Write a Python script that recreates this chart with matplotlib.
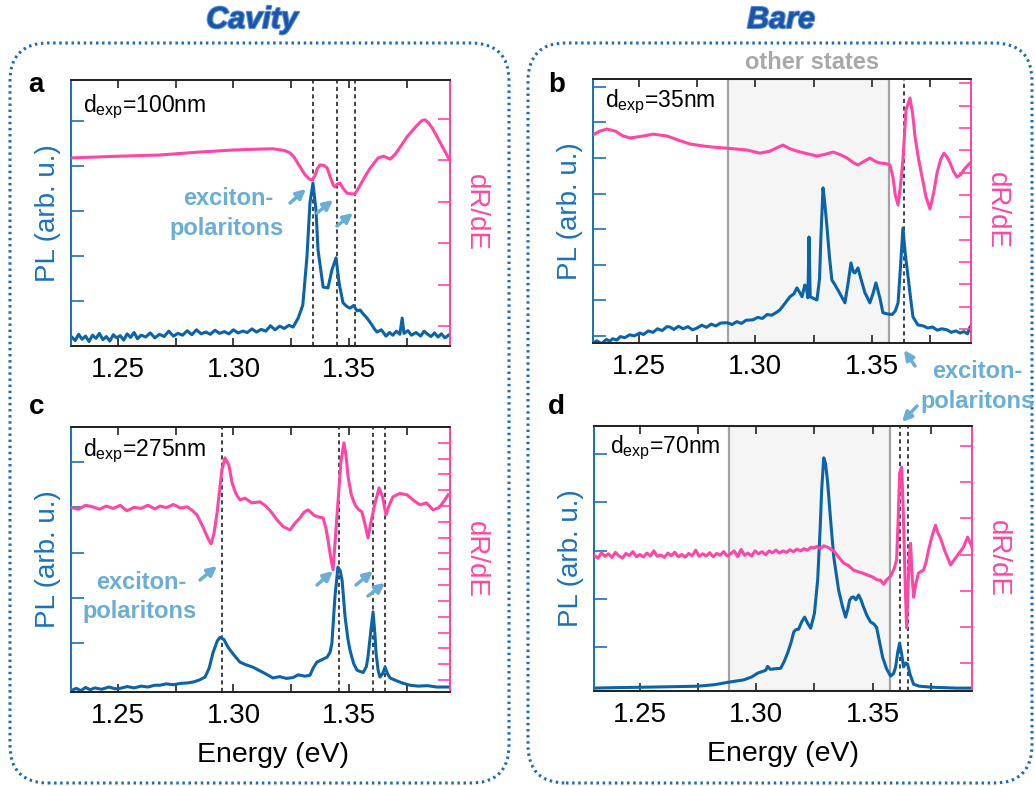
import numpy as np
import matplotlib
matplotlib.use("Agg")
import matplotlib.pyplot as plt
from matplotlib.patches import FancyBboxPatch, FancyArrowPatch
from matplotlib.transforms import IdentityTransform
import matplotlib.patheffects as pe

plt.rcParams['font.family'] = ['Liberation Sans', 'DejaVu Sans']
plt.rcParams['mathtext.fontset'] = 'custom'
plt.rcParams['mathtext.rm'] = 'Liberation Sans'
plt.rcParams['mathtext.it'] = 'Liberation Sans:italic'
plt.rcParams['mathtext.bf'] = 'Liberation Sans:bold'

# ---------------- data ----------------
# Panel a (cavity, d=100 nm)
a_pl_E = [1.2300, 1.2315, 1.2330, 1.2345, 1.2360, 1.2375, 1.2390, 1.2405, 1.2420, 1.2435, 1.2450, 1.2465,
          1.2480, 1.2495, 1.2510, 1.2525, 1.2540, 1.2555, 1.2570, 1.2585, 1.2600, 1.2620, 1.2640, 1.2660,
          1.2680, 1.2700, 1.2720, 1.2740, 1.2760, 1.2780, 1.2800, 1.2820, 1.2840, 1.2860, 1.2880, 1.2900,
          1.2920, 1.2940, 1.2960, 1.2980, 1.3000, 1.3020, 1.3040, 1.3060, 1.3080, 1.3100, 1.3120, 1.3140,
          1.3160, 1.3180, 1.3200, 1.3220, 1.3240, 1.3258, 1.3280, 1.3300, 1.3318, 1.3331, 1.3344, 1.3357,
          1.3366, 1.3388, 1.3409, 1.3426, 1.3444, 1.3457, 1.3474, 1.3490, 1.3504, 1.3520, 1.3535, 1.3548,
          1.3560, 1.3578, 1.3595, 1.3610, 1.3621, 1.3640, 1.3660, 1.3675, 1.3690, 1.3705, 1.3720, 1.3730,
          1.3738, 1.3755, 1.3770, 1.3790, 1.3810, 1.3825, 1.3838, 1.3855, 1.3870, 1.3885, 1.3900, 1.3915,
          1.3930]
a_pl = [0.20, 0.12, 0.26, 0.15, 0.22, 0.10, 0.24, 0.17, 0.28, 0.14, 0.21, 0.11,
        0.25, 0.18, 0.23, 0.13, 0.27, 0.19, 0.30, 0.16, 0.24, 0.20, 0.29, 0.18,
        0.26, 0.21, 0.33, 0.22, 0.28, 0.24, 0.34, 0.25, 0.36, 0.27, 0.31, 0.26,
        0.35, 0.28, 0.32, 0.27, 0.36, 0.29, 0.33, 0.30, 0.38, 0.31, 0.37, 0.33,
        0.45, 0.36, 0.44, 0.39, 0.46, 0.42, 0.62, 0.91, 1.98, 3.18, 3.62, 3.02,
        2.13, 1.31, 1.29, 1.69, 1.96, 1.40, 0.96, 0.88, 0.84, 0.90, 0.78, 0.80,
        0.72, 0.62, 0.50, 0.38, 0.31, 0.36, 0.22, 0.30, 0.24, 0.33, 0.26, 0.62,
        0.28, 0.34, 0.24, 0.30, 0.22, 0.33, 0.27, 0.21, 0.29, 0.20, 0.27, 0.18,
        0.24]
a_dr_E = [1.2300, 1.2500, 1.2682, 1.2850, 1.2998, 1.3100, 1.3171, 1.3220, 1.3245, 1.3262, 1.3275, 1.3293,
          1.3310, 1.3328, 1.3340, 1.3352, 1.3363, 1.3374, 1.3390, 1.3405, 1.3420, 1.3432, 1.3439, 1.3450,
          1.3461, 1.3475, 1.3491, 1.3510, 1.3526, 1.3543, 1.3561, 1.3590, 1.3626, 1.3650, 1.3678, 1.3700,
          1.3725, 1.3751, 1.3790, 1.3815, 1.3829, 1.3845, 1.3860, 1.3881, 1.3905, 1.3933]
a_dr = [5.06, 5.10, 5.13, 5.20, 5.25, 5.27, 5.28, 5.24, 5.18, 5.08, 4.96, 4.80,
        4.65, 4.55, 4.53, 4.62, 4.80, 4.89, 4.88, 4.82, 4.58, 4.40, 4.36, 4.43,
        4.45, 4.32, 4.21, 4.19, 4.19, 4.35, 4.53, 4.80, 5.06, 5.10, 5.03, 5.15,
        5.35, 5.57, 5.82, 5.96, 5.98, 5.90, 5.78, 5.57, 5.32, 5.03]
a_lines = [1.3344, 1.3448, 1.3526]

# Panel b (bare, d=35 nm)
b_pl_E = [1.2303, 1.2320, 1.2340, 1.2360, 1.2375, 1.2388, 1.2405, 1.2420, 1.2440, 1.2460, 1.2480, 1.2504,
          1.2520, 1.2540, 1.2560, 1.2580, 1.2600, 1.2620, 1.2633, 1.2650, 1.2670, 1.2690, 1.2710, 1.2730,
          1.2749, 1.2770, 1.2790, 1.2810, 1.2830, 1.2850, 1.2878, 1.2900, 1.2920, 1.2940, 1.2960, 1.2989,
          1.3010, 1.3030, 1.3050, 1.3070, 1.3090, 1.3105, 1.3125, 1.3148, 1.3165, 1.3178, 1.3190, 1.3200,
          1.3212, 1.3220, 1.3225, 1.3230, 1.3235, 1.3250, 1.3264, 1.3275, 1.3281, 1.3290, 1.3298, 1.3307,
          1.3318, 1.3328, 1.3340, 1.3354, 1.3370, 1.3384, 1.3398, 1.3410, 1.3420, 1.3427, 1.3440, 1.3455,
          1.3470, 1.3491, 1.3505, 1.3517, 1.3534, 1.3547, 1.3565, 1.3586, 1.3600, 1.3612, 1.3622, 1.3633,
          1.3643, 1.3655, 1.3665, 1.3676, 1.3697, 1.3720, 1.3740, 1.3760, 1.3780, 1.3800, 1.3822, 1.3840,
          1.3860, 1.3878, 1.3895, 1.3910, 1.3921]
b_pl = [0.80, 0.86, 0.78, 0.90, 0.85, 0.92, 0.88, 0.98, 0.95, 1.03, 1.00, 1.08,
        1.04, 1.14, 1.10, 1.20, 1.15, 1.26, 1.25, 1.18, 1.27, 1.20, 1.26, 1.17,
        1.22, 1.30, 1.24, 1.33, 1.28, 1.36, 1.37, 1.32, 1.40, 1.35, 1.44, 1.45,
        1.52, 1.49, 1.60, 1.58, 1.66, 1.73, 1.90, 2.10, 2.18, 2.35, 2.22, 2.10,
        2.43, 2.30, 2.07, 3.78, 2.10, 2.05, 2.01, 2.60, 3.78, 5.16, 4.70, 4.06,
        3.20, 2.57, 2.45, 2.29, 2.10, 1.93, 2.50, 3.05, 2.80, 2.77, 2.91, 2.55,
        2.21, 1.93, 2.20, 2.49, 2.07, 1.65, 1.62, 1.60, 1.70, 1.93, 2.90, 4.03,
        3.30, 2.66, 2.10, 1.53, 1.31, 1.28, 1.22, 1.25, 1.16, 1.20, 1.17, 1.10,
        1.14, 1.08, 1.12, 1.06, 1.25]
b_dr_E = [1.2303, 1.2330, 1.2363, 1.2400, 1.2430, 1.2461, 1.2510, 1.2560, 1.2620, 1.2670, 1.2719, 1.2770,
          1.2818, 1.2890, 1.2964, 1.3019, 1.3060, 1.3100, 1.3118, 1.3145, 1.3178, 1.3220, 1.3264, 1.3300,
          1.3333, 1.3365, 1.3393, 1.3420, 1.3440, 1.3465, 1.3491, 1.3515, 1.3534, 1.3560, 1.3577, 1.3590,
          1.3600, 1.3612, 1.3622, 1.3633, 1.3646, 1.3663, 1.3675, 1.3685, 1.3700, 1.3715, 1.3732, 1.3749,
          1.3765, 1.3779, 1.3795, 1.3809, 1.3822, 1.3835, 1.3850, 1.3865, 1.3880, 1.3900, 1.3921]
b_dr = [9.68, 9.85, 9.95, 9.85, 9.65, 9.55, 9.62, 9.72, 9.64, 9.45, 9.28, 9.20,
        9.14, 9.08, 9.01, 8.87, 8.95, 9.15, 9.23, 9.08, 8.96, 8.85, 8.74, 8.82,
        8.92, 8.80, 8.65, 8.45, 8.34, 8.50, 8.65, 8.50, 8.43, 8.40, 8.34, 7.80,
        7.00, 6.55, 7.40, 8.56, 10.80, 11.34, 10.60, 9.59, 8.60, 7.80, 6.90, 6.37,
        7.10, 7.98, 8.60, 8.87, 8.70, 8.43, 8.05, 7.80, 7.90, 8.20, 8.43]
b_lines = [1.3637]

# Panel c (cavity, d=275 nm)
c_pl_E = [1.2301, 1.2320, 1.2340, 1.2360, 1.2380, 1.2400, 1.2430, 1.2460, 1.2490, 1.2509, 1.2540, 1.2570,
          1.2600, 1.2630, 1.2660, 1.2682, 1.2710, 1.2740, 1.2770, 1.2800, 1.2825, 1.2850, 1.2877, 1.2895,
          1.2911, 1.2930, 1.2942, 1.2959, 1.2972, 1.2985, 1.3005, 1.3028, 1.3055, 1.3084, 1.3110, 1.3140,
          1.3171, 1.3200, 1.3230, 1.3258, 1.3280, 1.3310, 1.3331, 1.3345, 1.3361, 1.3385, 1.3405, 1.3418,
          1.3426, 1.3439, 1.3452, 1.3462, 1.3470, 1.3483, 1.3495, 1.3504, 1.3520, 1.3535, 1.3561, 1.3575,
          1.3582, 1.3595, 1.3604, 1.3612, 1.3617, 1.3626, 1.3634, 1.3645, 1.3656, 1.3667, 1.3678, 1.3700,
          1.3730, 1.3764, 1.3800, 1.3840, 1.3880, 1.3929]
c_pl = [-0.04, 0.00, -0.05, 0.02, -0.03, 0.01, -0.02, 0.03, -0.01, 0.00, 0.04, 0.01,
        0.05, 0.03, 0.07, 0.07, 0.10, 0.08, 0.11, 0.12, 0.14, 0.18, 0.25, 0.45,
        0.78, 1.05, 1.13, 1.08, 0.95, 0.85, 0.72, 0.58, 0.52, 0.47, 0.40, 0.32,
        0.23, 0.26, 0.22, 0.24, 0.30, 0.27, 0.29, 0.45, 0.58, 0.64, 0.69, 0.80,
        1.00, 2.02, 2.68, 2.60, 2.39, 1.58, 1.10, 0.85, 0.55, 0.40, 0.35, 0.48,
        0.69, 1.30, 1.69, 1.20, 0.78, 0.40, 0.25, 0.32, 0.47, 0.32, 0.23, 0.18,
        0.12, 0.07, 0.05, 0.06, 0.03, 0.03]
c_dr_E = [1.2301, 1.2330, 1.2360, 1.2392, 1.2420, 1.2450, 1.2480, 1.2510, 1.2539, 1.2570, 1.2600, 1.2630,
          1.2660, 1.2682, 1.2710, 1.2740, 1.2770, 1.2799, 1.2820, 1.2842, 1.2868, 1.2890, 1.2903, 1.2915,
          1.2929, 1.2940, 1.2950, 1.2963, 1.2980, 1.2994, 1.3010, 1.3028, 1.3050, 1.3080, 1.3115, 1.3140,
          1.3165, 1.3188, 1.3215, 1.3245, 1.3265, 1.3288, 1.3305, 1.3323, 1.3350, 1.3370, 1.3388, 1.3400,
          1.3409, 1.3420, 1.3431, 1.3440, 1.3452, 1.3465, 1.3478, 1.3487, 1.3496, 1.3510, 1.3526, 1.3540,
          1.3556, 1.3570, 1.3582, 1.3595, 1.3613, 1.3630, 1.3645, 1.3660, 1.3675, 1.3690, 1.3720, 1.3751,
          1.3780, 1.3807, 1.3835, 1.3864, 1.3890, 1.3910, 1.3929]
c_dr = [11.89, 11.80, 12.05, 11.95, 11.80, 12.00, 11.85, 12.05, 11.70, 11.92, 11.85, 12.05,
        11.82, 12.00, 11.90, 12.10, 11.88, 11.95, 11.75, 11.44, 10.68, 9.95, 9.61, 10.20,
        11.57, 13.00, 14.29, 15.05, 14.60, 13.47, 12.80, 12.39, 12.50, 12.20, 12.27, 12.00,
        11.60, 11.13, 10.70, 10.49, 10.90, 11.25, 11.60, 11.76, 11.40, 11.30, 11.25, 10.60,
        9.86, 8.80, 7.96, 9.80, 12.20, 14.80, 16.00, 15.20, 13.85, 12.70, 12.08, 11.80,
        11.63, 10.80, 9.99, 11.00, 12.20, 13.15, 12.60, 11.44, 12.10, 12.58, 12.80, 12.71,
        12.35, 12.08, 12.20, 11.76, 11.90, 12.30, 12.71]
c_lines = [1.2950, 1.3457, 1.3604, 1.3656]

# Panel d (bare, d=70 nm)
d_pl_E = [1.2303, 1.2400, 1.2534, 1.2650, 1.2749, 1.2820, 1.2878, 1.2946, 1.2980, 1.3006, 1.3030, 1.3041,
          1.3049, 1.3060, 1.3080, 1.3105, 1.3120, 1.3135, 1.3150, 1.3161, 1.3170, 1.3182, 1.3195, 1.3208,
          1.3220, 1.3234, 1.3250, 1.3264, 1.3275, 1.3281, 1.3290, 1.3298, 1.3307, 1.3320, 1.3333, 1.3354,
          1.3370, 1.3384, 1.3394, 1.3401, 1.3410, 1.3418, 1.3428, 1.3440, 1.3450, 1.3461, 1.3476, 1.3491,
          1.3505, 1.3517, 1.3530, 1.3543, 1.3560, 1.3577, 1.3590, 1.3599, 1.3608, 1.3616, 1.3625, 1.3633,
          1.3642, 1.3650, 1.3660, 1.3676, 1.3700, 1.3749, 1.3800, 1.3860, 1.3921]
d_pl = [0.15, 0.16, 0.17, 0.18, 0.19, 0.22, 0.27, 0.32, 0.38, 0.46, 0.50, 0.52,
        0.60, 0.54, 0.55, 0.56, 0.70, 0.88, 1.10, 1.31, 1.36, 1.37, 1.52, 1.62,
        1.50, 1.39, 1.70, 2.39, 3.50, 4.25, 4.92, 4.80, 4.40, 3.60, 2.87, 2.18,
        1.85, 1.62, 1.80, 1.97, 2.03, 2.04, 1.98, 2.08, 1.98, 1.83, 1.65, 1.52,
        1.48, 1.41, 1.10, 0.79, 0.55, 0.40, 0.45, 0.59, 0.90, 1.08, 0.85, 0.59,
        0.67, 0.65, 0.45, 0.23, 0.19, 0.17, 0.16, 0.15, 0.15]
d_dr_E = [1.2303, 1.2320, 1.2335, 1.2350, 1.2365, 1.2380, 1.2395, 1.2410, 1.2425, 1.2440, 1.2455, 1.2470,
          1.2485, 1.2500, 1.2515, 1.2530, 1.2545, 1.2560, 1.2575, 1.2590, 1.2605, 1.2620, 1.2635, 1.2650,
          1.2665, 1.2680, 1.2695, 1.2710, 1.2725, 1.2740, 1.2755, 1.2770, 1.2785, 1.2800, 1.2815, 1.2830,
          1.2845, 1.2860, 1.2875, 1.2890, 1.2905, 1.2920, 1.2935, 1.2950, 1.2964, 1.2980, 1.2995, 1.3010,
          1.3025, 1.3040, 1.3055, 1.3070, 1.3085, 1.3100, 1.3115, 1.3130, 1.3145, 1.3160, 1.3175, 1.3190,
          1.3205, 1.3220, 1.3235, 1.3247, 1.3260, 1.3275, 1.3290, 1.3307, 1.3320, 1.3333, 1.3355, 1.3376,
          1.3395, 1.3418, 1.3440, 1.3460, 1.3479, 1.3500, 1.3520, 1.3534, 1.3547, 1.3560, 1.3577, 1.3592,
          1.3603, 1.3610, 1.3616, 1.3624, 1.3628, 1.3633, 1.3640, 1.3646, 1.3651, 1.3658, 1.3663, 1.3668,
          1.3676, 1.3686, 1.3697, 1.3719, 1.3730, 1.3740, 1.3755, 1.3770, 1.3780, 1.3792, 1.3810, 1.3835,
          1.3850, 1.3865, 1.3890, 1.3908, 1.3918, 1.3927]
d_dr = [3.98, 3.90, 4.05, 3.95, 4.02, 3.92, 4.06, 3.96, 3.90, 4.03, 3.97, 4.08,
        3.94, 4.00, 3.93, 4.04, 3.96, 4.10, 3.95, 3.99, 3.92, 4.04, 3.97, 4.06,
        3.94, 4.00, 3.93, 4.03, 3.97, 4.12, 3.95, 4.02, 3.96, 4.05, 3.94, 4.03,
        3.98, 4.08, 3.96, 4.02, 4.10, 3.94, 4.14, 3.98, 4.04, 3.96, 4.10, 4.02,
        4.08, 3.99, 4.10, 4.05, 4.12, 4.04, 4.10, 4.06, 4.13, 4.08, 4.15, 4.10,
        4.16, 4.12, 4.20, 4.18, 4.22, 4.16, 4.24, 4.20, 4.15, 4.10, 3.92, 3.76,
        3.70, 3.57, 3.52, 3.48, 3.43, 3.38, 3.30, 3.29, 3.18, 3.30, 3.40, 3.60,
        3.85, 5.00, 6.25, 6.41, 5.90, 4.87, 3.20, 1.97, 2.90, 4.00, 4.31, 3.60,
        2.82, 3.20, 3.49, 3.57, 3.80, 4.12, 4.50, 4.81, 4.60, 4.45, 4.10, 3.71,
        3.85, 3.98, 4.20, 4.48, 4.35, 4.20]
d_lines = [1.3616, 1.3652]

other_states = (1.2884, 1.3573)
x_ticks = [1.25, 1.275, 1.30, 1.325, 1.35, 1.375]
x_ticklabels = ['1.25', '', '1.30', '', '1.35', '']

# ---------------- style ----------------
W, H = 1035, 786
PL_C = '#0b63a8'
PL_LAB = '#1a72b8'
DR_C = '#ff45a5'
ANN_C = '#6aaed6'
BOX_C = '#1a6db5'

fig = plt.figure(figsize=(W / 100, H / 100), dpi=100)


def fx(x):
    return x / W


def fy(y):
    return 1 - y / H


panels = [
    dict(rect=(71, 80, 450, 346), xlim=(1.2297, 1.3937), pl=(a_pl_E, a_pl), dr=(a_dr_E, a_dr),
         pl_lim=(0.0, 5.91), pl_ticks=range(1, 6), dr_lim=(0.52, 6.94), dr_ticks=range(1, 7),
         lines=a_lines, shade=False, label='a', lab_xy=(28, 92), dexp='100', dexp_xy=(83, 112), xlabel=False),
    dict(rect=(593, 79, 971, 343), xlim=(1.2303, 1.3925), pl=(b_pl_E, b_pl), dr=(b_dr_E, b_dr),
         pl_lim=(0.8, 8.22), pl_ticks=range(1, 9), dr_lim=(0.37, 12.19), dr_ticks=range(1, 13),
         lines=b_lines, shade=True, label='b', lab_xy=(548, 92), dexp='35', dexp_xy=(605, 107), xlabel=False),
    dict(rect=(71, 427, 450, 692), xlim=(1.2297, 1.3937), pl=(c_pl_E, c_pl), dr=(c_dr_E, c_dr),
         pl_lim=(-0.08, 5.78), pl_ticks=range(1, 6), dr_lim=(0.24, 17.0), dr_ticks=range(1, 17),
         lines=c_lines, shade=False, label='c', lab_xy=(29, 414), dexp='275', dexp_xy=(83, 456), xlabel=True,
         xlab_x=0.534),
    dict(rect=(594, 426, 972, 691), xlim=(1.2303, 1.3927), pl=(d_pl_E, d_pl), dr=(d_dr_E, d_dr),
         pl_lim=(0.09, 5.58), pl_ticks=range(1, 6), dr_lim=(0.23, 7.55), dr_ticks=range(1, 8),
         lines=d_lines, shade=True, label='d', lab_xy=(548, 414), dexp='70', dexp_xy=(610, 453), xlabel=True,
         xlab_x=0.5),
]

for p in panels:
    x0, y0, x1, y1 = p['rect']
    ax = fig.add_axes([fx(x0), fy(y1), (x1 - x0) / W, (y1 - y0) / H])
    ax2 = ax.twinx()
    ax.set_zorder(1)
    ax2.set_zorder(2)
    ax.set_xlim(*p['xlim'])
    if p['shade']:
        ax.axvspan(*other_states, facecolor='#f5f5f5', edgecolor='#a3a3a3', lw=1.6, zorder=0)
    for e in p['lines']:
        ax.axvline(e, color='#222222', lw=1.2, ls=(0, (2.5, 2)), zorder=1)
    ax.plot(p['pl'][0], p['pl'][1], color=PL_C, lw=2.2, zorder=3)
    ax2.plot(p['dr'][0], p['dr'][1], color=DR_C, lw=2.2, zorder=3)
    ax.set_ylim(*p['pl_lim'])
    ax2.set_ylim(*p['dr_lim'])
    ax.set_yticks(list(p['pl_ticks']))
    ax2.set_yticks(list(p['dr_ticks']))
    ax.set_xticks(x_ticks)
    ax.set_xticklabels(x_ticklabels)
    ax.tick_params(axis='x', direction='in', top=True, length=6, width=1.2, labelsize=20, pad=8,
                   color='#222222')
    ax.tick_params(axis='y', direction='in', length=9, width=1.2, color=PL_LAB, labelleft=False)
    ax2.tick_params(axis='y', direction='in', length=9, width=1.2, color=DR_C, labelright=False)
    for a in (ax, ax2):
        a.spines['left'].set_color(PL_LAB)
        a.spines['right'].set_color(DR_C)
        a.spines['top'].set_color('#222222')
        a.spines['bottom'].set_color('#222222')
        for s in a.spines.values():
            s.set_linewidth(1.3)
    ax.set_ylabel('PL (arb. u.)', color=PL_LAB, fontsize=20, labelpad=7)
    ax2.set_ylabel('dR/dE', color=DR_C, fontsize=20, rotation=270, va='bottom', labelpad=9)
    if p['xlabel']:
        ax.set_xlabel('Energy (eV)', fontsize=20.5)
        ax.xaxis.set_label_coords(p['xlab_x'], -0.19)
    lx, ly = p['lab_xy']
    fig.text(fx(lx), fy(ly), p['label'], fontsize=20, fontweight='bold', ha='left', va='baseline')
    dx, dy = p['dexp_xy']
    fig.text(fx(dx), fy(dy), r'd$_\mathregular{exp}$=' + p['dexp'] + 'nm', fontsize=16.5,
             ha='left', va='baseline', zorder=10)

# annotations
ann_kw = dict(fontsize=17, fontweight='bold', color=ANN_C, va='baseline')
fig.text(fx(228), fy(205), 'exciton-', ha='center', **ann_kw)
fig.text(fx(227), fy(235), 'polaritons', ha='center', **ann_kw)
fig.text(fx(141), fy(589), 'exciton-', ha='center', **ann_kw)
fig.text(fx(140), fy(618), 'polaritons', ha='center', **ann_kw)
fig.text(fx(932), fy(378), 'exciton-', ha='left', **ann_kw)
fig.text(fx(920), fy(408), 'polaritons', ha='left', **ann_kw)
fig.text(fx(812), fy(69), 'other states', ha='center', fontsize=17, fontweight='bold',
         color='#a8a8a8', va='baseline')

arrows = [((290, 203), (306, 189)), ((317, 213), (333, 200)), ((337, 226), (353, 213)),
          ((200, 580), (217, 566)), ((317, 585), (333, 571)), ((356, 585), (373, 571)),
          ((368, 596), (385, 583)),
          ((915, 366), (904, 350)), ((917, 406), (902, 422))]
for (xa, ya), (xb, yb) in arrows:
    fig.add_artist(FancyArrowPatch((fx(xa), fy(ya)), (fx(xb), fy(yb)), transform=fig.transFigure,
                                   arrowstyle='-|>', mutation_scale=14, lw=2.5, color=ANN_C,
                                   shrinkA=0, shrinkB=0, zorder=20))

# column titles
for txt, xc in (('Cavity', 252), ('Bare', 781)):
    fig.text(fx(xc), fy(28), txt, fontsize=22, fontweight='bold', fontstyle='italic', color='#1a55a8',
             ha='center', va='baseline',
             path_effects=[pe.withStroke(linewidth=1.5, foreground='#5f93dc')])

# dotted rounded boxes (pixel coordinates, origin bottom-left)
for (bx0, bx1) in ((10, 509), (528, 1032)):
    box = FancyBboxPatch((bx0, H - 783), bx1 - bx0, 783 - 43,
                         boxstyle='round,pad=0,rounding_size=38', transform=IdentityTransform(),
                         fill=False, edgecolor=BOX_C, lw=2.2, ls=(0, (0.8, 1.2)))
    fig.add_artist(box)

fig.savefig('out.png', dpi=100)
